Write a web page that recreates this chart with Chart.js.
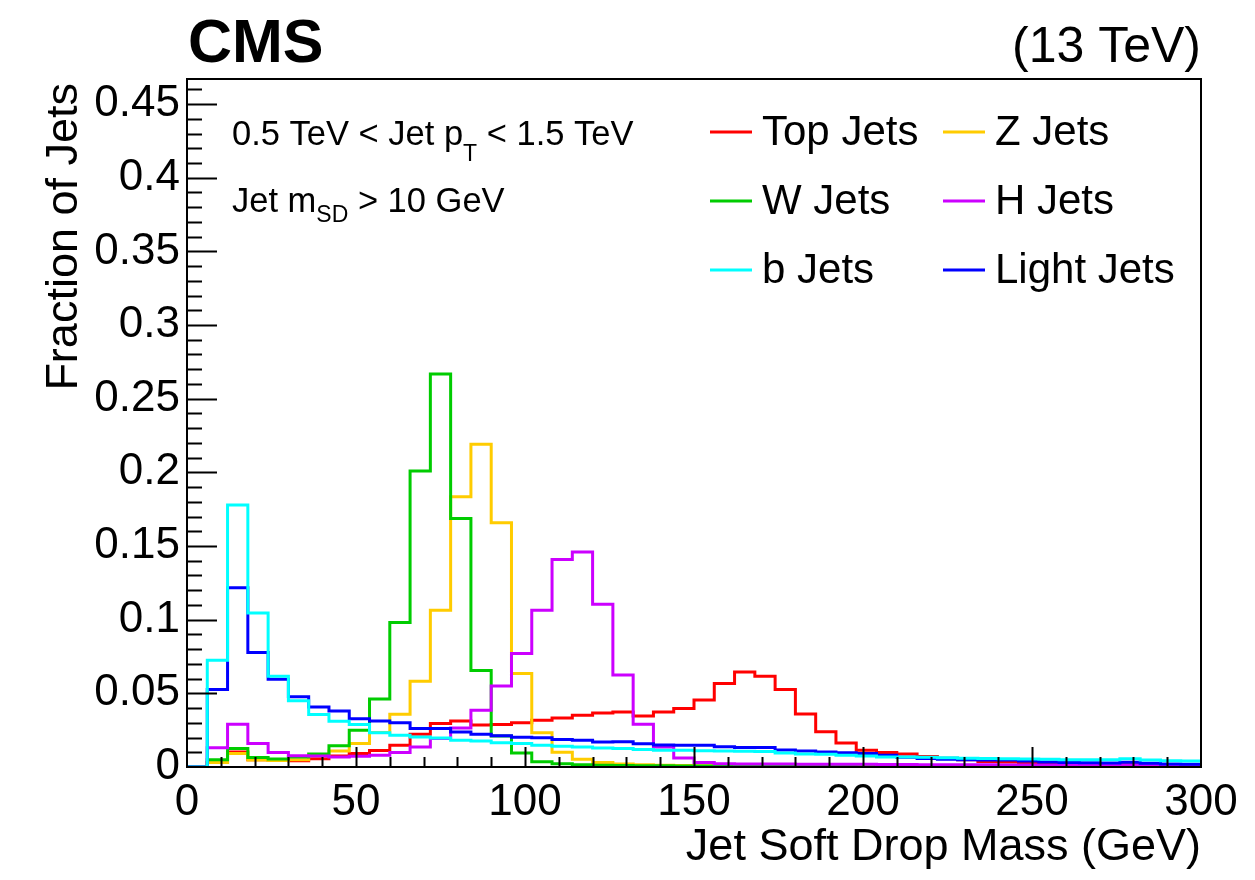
<!DOCTYPE html>
<html>
<head>
<meta charset="utf-8">
<title>Jet Soft Drop Mass</title>
<script src="https://cdn.jsdelivr.net/npm/chart.js@4.4.0/dist/chart.umd.min.js"></script>
<style>
    html, body { margin: 0; padding: 0; background: #fff; }
    canvas { display: block; }
</style>
</head>
<body>
<canvas id="massChart" width="1255" height="880"></canvas>
<script>
// Bin edges (GeV), 50 bins of 6 GeV
const binEdges = [0, 6, 12, 18, 24, 30, 36, 42, 48, 54, 60, 66, 72, 78, 84, 90, 96, 102, 108, 114,
    120, 126, 132, 138, 144, 150, 156, 162, 168, 174, 180, 186, 192, 198, 204, 210, 216, 222, 228, 234,
    240, 246, 252, 258, 264, 270, 276, 282, 288, 294, 300];

// Fraction of jets per bin
const topJets = [0, 0.003, 0.0102, 0.005, 0.0045, 0.0042, 0.0056, 0.0075, 0.0091, 0.0112,
    0.0147, 0.0222, 0.0295, 0.0313, 0.0285, 0.0288, 0.0300, 0.0318, 0.0333, 0.0351,
    0.0367, 0.0374, 0.0346, 0.0374, 0.0397, 0.0455, 0.0566, 0.0645, 0.0616, 0.0526,
    0.0360, 0.0240, 0.0163, 0.0113, 0.0099, 0.0088, 0.0072, 0.0060, 0.0050, 0.0038,
    0.0034, 0.0030, 0.0025, 0.0022, 0.0020, 0.0018, 0.0016, 0.0014, 0.0013, 0.0012];
const zJets = [0, 0.003, 0.0092, 0.0047, 0.0044, 0.005, 0.0076, 0.0108, 0.0159, 0.0235,
    0.0358, 0.0582, 0.1064, 0.1834, 0.219, 0.1658, 0.0634, 0.0232, 0.0100, 0.0052,
    0.0030, 0.0020, 0.0015, 0.0012, 0.0010, 0.0008, 0.0007, 0.0006, 0.0006, 0.0005,
    0.0005, 0.0004, 0.0004, 0.0004, 0.0003, 0.0003, 0.0003, 0.0003, 0.0003, 0.0002,
    0.0002, 0.0002, 0.0002, 0.0002, 0.0002, 0.0002, 0.0002, 0.0002, 0.0002, 0.0002];
const wJets = [0, 0.005, 0.0125, 0.0064, 0.0055, 0.0068, 0.0089, 0.0145, 0.0249, 0.0462,
    0.098, 0.2009, 0.2668, 0.1687, 0.0655, 0.021, 0.0095, 0.0035, 0.0022, 0.0015,
    0.0012, 0.0010, 0.0009, 0.0008, 0.0007, 0.0006, 0.0005, 0.0005, 0.0004, 0.0003,
    0.0003, 0.0003, 0.0003, 0.0002, 0.0002, 0.0002, 0.0002, 0.0002, 0.0002, 0.0002,
    0.0002, 0.0002, 0.0002, 0.0002, 0.0002, 0.0002, 0.0002, 0.0002, 0.0002, 0.0002];
const hJets = [0, 0.013, 0.029, 0.0159, 0.0099, 0.0076, 0.0074, 0.0068, 0.0073, 0.008,
    0.0098, 0.0136, 0.0193, 0.0265, 0.0385, 0.0549, 0.077, 0.1064, 0.1409, 0.146,
    0.1105, 0.0625, 0.029, 0.0136, 0.0061, 0.0030, 0.0022, 0.0021, 0.0020, 0.0020,
    0.0019, 0.0019, 0.0018, 0.0018, 0.0017, 0.0017, 0.0016, 0.0016, 0.0015, 0.0015,
    0.0014, 0.0014, 0.0013, 0.0013, 0.0013, 0.0012, 0.0012, 0.0012, 0.0011, 0.0011];
const bJets = [0, 0.0725, 0.1778, 0.1046, 0.0616, 0.0449, 0.0356, 0.031, 0.0288, 0.0232,
    0.0215, 0.0204, 0.0197, 0.0181, 0.0177, 0.0165, 0.0159, 0.0147, 0.0140, 0.0136,
    0.0129, 0.0125, 0.0118, 0.0113, 0.0113, 0.0110, 0.0108, 0.0107, 0.0106, 0.0095,
    0.0088, 0.0086, 0.0080, 0.0075, 0.0068, 0.0068, 0.0066, 0.0063, 0.0060, 0.0057,
    0.0056, 0.0055, 0.0052, 0.0050, 0.0050, 0.0050, 0.0056, 0.0047, 0.0042, 0.0040];
const lightJets = [0, 0.0526, 0.1216, 0.0777, 0.0596, 0.0476, 0.0408, 0.038, 0.0328, 0.0313,
    0.0300, 0.0261, 0.0261, 0.0238, 0.0222, 0.0212, 0.0202, 0.0198, 0.0187, 0.0181,
    0.0170, 0.0172, 0.0158, 0.0150, 0.0148, 0.0147, 0.0138, 0.0133, 0.0132, 0.0115,
    0.0108, 0.0101, 0.0097, 0.0091, 0.0080, 0.0066, 0.0058, 0.0052, 0.0050, 0.0048,
    0.0047, 0.0040, 0.0034, 0.0030, 0.0028, 0.0027, 0.0033, 0.0025, 0.0020, 0.0019];

const xTicks = [0, 50, 100, 150, 200, 250, 300];
const yTicks = [0, 0.05, 0.1, 0.15, 0.2, 0.25, 0.3, 0.35, 0.4, 0.45];

const FONT = '"Liberation Sans", Arial, Helvetica, sans-serif';

// histogram -> step points: bin i value sits on [edge i, edge i+1]
function toSteps(values) {
    const pts = [{ x: binEdges[0], y: values[0] }];
    values.forEach((v, i) => pts.push({ x: binEdges[i + 1], y: v }));
    return pts;
}

function hist(label, values, color, order) {
    return {
        label: label,
        data: toSteps(values),
        borderColor: color,
        backgroundColor: color,
        borderWidth: 3,
        stepped: 'after',
        fill: false,
        pointRadius: 0,
        order: order
    };
}

const series = [
    { label: 'Top Jets', color: '#ff0000' },
    { label: 'Z Jets', color: '#ffcc00' },
    { label: 'W Jets', color: '#00cc00' },
    { label: 'H Jets', color: '#cc00ff' },
    { label: 'b Jets', color: '#00ffff' },
    { label: 'Light Jets', color: '#0000ff' }
];

// inner ticks + frame, ROOT style
const frameTicks = {
    id: 'frameTicks',
    afterDatasetsDraw(chart) {
        const { ctx, chartArea: a, scales: { x, y } } = chart;
        ctx.save();
        ctx.strokeStyle = '#000';
        ctx.lineWidth = 2;
        ctx.beginPath();
        for (let i = 1; i <= 46; i++) {
            const py = Math.round(y.getPixelForValue(i / 100)) + 0.5;
            const len = i % 5 === 0 ? 30 : 15;
            ctx.moveTo(a.left, py);
            ctx.lineTo(a.left + len, py);
        }
        for (let i = 1; i < 30; i++) {
            const px = Math.round(x.getPixelForValue(i * 10)) + 0.5;
            const len = i % 5 === 0 ? 20 : 10;
            ctx.moveTo(px, a.bottom);
            ctx.lineTo(px, a.bottom - len);
        }
        ctx.stroke();
        ctx.strokeRect(a.left, a.top, a.right - a.left, a.bottom - a.top);
        ctx.restore();
    }
};

// draws text pieces with sub-scripts one after another
function drawRich(ctx, x, y, parts) {
    let cx = x;
    parts.forEach(p => {
        ctx.font = p.size + 'px ' + FONT;
        ctx.fillText(p.t, cx, y + (p.dy || 0));
        cx += ctx.measureText(p.t).width;
    });
}

const labels = {
    id: 'labels',
    afterDraw(chart) {
        const { ctx, chartArea: a } = chart;
        ctx.save();
        ctx.fillStyle = '#000';
        ctx.textBaseline = 'alphabetic';

        ctx.font = 'bold 61px ' + FONT;
        ctx.textAlign = 'left';
        ctx.fillText('CMS', a.left + 1, 62);

        ctx.font = '50px ' + FONT;
        ctx.textAlign = 'right';
        ctx.fillText('(13 TeV)', a.right, 62);

        // axis titles
        ctx.font = '45px ' + FONT;
        ctx.fillText('Jet Soft Drop Mass (GeV)', a.right, 860);
        ctx.save();
        ctx.translate(77, a.top + 4);
        ctx.rotate(-Math.PI / 2);
        ctx.textAlign = 'right';
        ctx.fillText('Fraction of Jets', 0, 0);
        ctx.restore();

        // selection text
        ctx.textAlign = 'left';
        drawRich(ctx, 232, 145, [
            { t: '0.5 TeV < Jet p', size: 34.5 },
            { t: 'T', size: 23, dy: 16 },
            { t: ' < 1.5 TeV', size: 34.5 }
        ]);
        drawRich(ctx, 232, 212, [
            { t: 'Jet m', size: 34.5 },
            { t: 'SD', size: 23, dy: 10 },
            { t: ' > 10 GeV', size: 34.5 }
        ]);

        // legend, two columns
        const cols = [710, 943];
        const rows = [145, 214, 283];
        ctx.font = '42px ' + FONT;
        series.forEach((s, i) => {
            const lx = cols[i % 2];
            const ly = rows[Math.floor(i / 2)];
            ctx.strokeStyle = s.color;
            ctx.lineWidth = 3;
            ctx.beginPath();
            ctx.moveTo(lx, ly - 13);
            ctx.lineTo(lx + 42, ly - 13);
            ctx.stroke();
            ctx.fillText(s.label, lx + 52, ly);
        });
        ctx.restore();
    }
};

const tickFont = { family: FONT, size: 44 };

new Chart(document.getElementById('massChart').getContext('2d'), {
    type: 'line',
    data: {
        datasets: [
            hist('Top Jets', topJets, '#ff0000', 5),
            hist('Z Jets', zJets, '#ffcc00', 4),
            hist('W Jets', wJets, '#00cc00', 3),
            hist('H Jets', hJets, '#cc00ff', 2),
            hist('Light Jets', lightJets, '#0000ff', 1),
            hist('b Jets', bJets, '#00ffff', 0)
        ]
    },
    options: {
        responsive: false,
        animation: false,
        layout: { padding: { top: 79, right: 54, left: 0, bottom: 0 } },
        plugins: { legend: { display: false }, tooltip: { enabled: false } },
        scales: {
            x: {
                type: 'linear',
                min: 0,
                max: 300,
                grid: { display: false, drawTicks: false },
                border: { display: false },
                afterBuildTicks: s => { s.ticks = xTicks.map(v => ({ value: v })); },
                ticks: { color: '#000', font: tickFont, padding: 9, maxRotation: 0, autoSkip: false },
                afterFit: s => { s.height = 113; }
            },
            y: {
                type: 'linear',
                min: 0,
                max: 0.467,
                grid: { display: false, drawTicks: false },
                border: { display: false },
                afterBuildTicks: s => { s.ticks = yTicks.map(v => ({ value: v })); },
                ticks: {
                    color: '#000',
                    font: tickFont,
                    padding: 7,
                    autoSkip: false,
                    callback: v => String(+v.toFixed(2))
                },
                afterFit: s => { s.width = 187; }
            }
        }
    },
    plugins: [frameTicks, labels]
});
</script>
</body>
</html>
